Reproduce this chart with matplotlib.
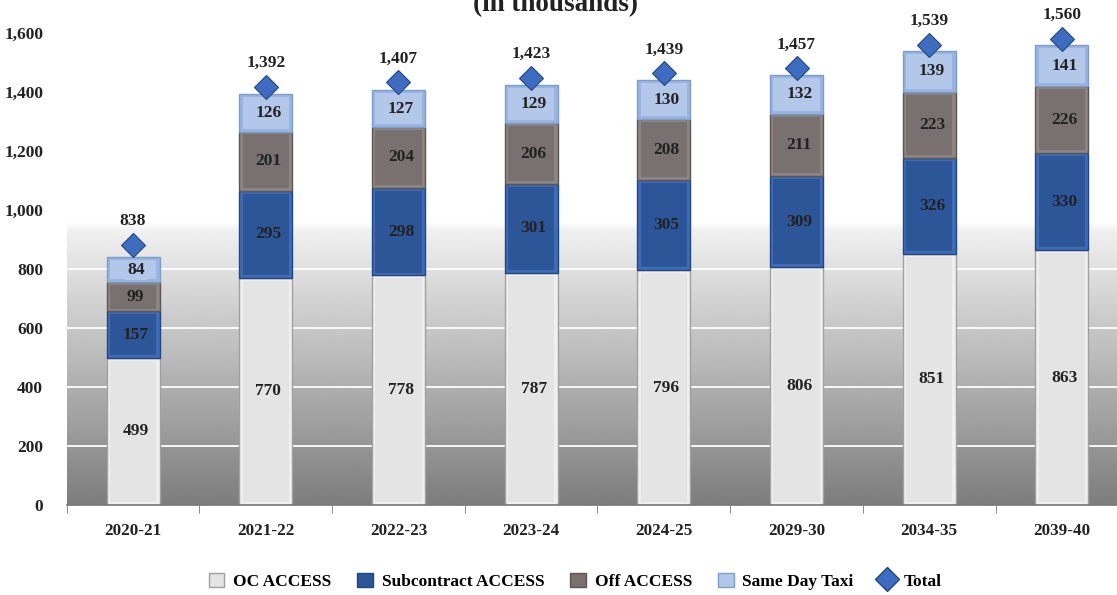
import matplotlib
matplotlib.use("Agg")
import matplotlib.pyplot as plt
from matplotlib.patches import Patch
from matplotlib.lines import Line2D
import numpy as np

# data (thousands of trips)
years = ["2020-21", "2021-22", "2022-23", "2023-24", "2024-25", "2029-30", "2034-35", "2039-40"]
oc_access = [499, 770, 778, 787, 796, 806, 851, 863]
sub_access = [157, 295, 298, 301, 305, 309, 326, 330]
off_access = [99, 201, 204, 206, 208, 211, 223, 226]
same_day_taxi = [84, 126, 127, 129, 130, 132, 139, 141]
total = [838, 1392, 1407, 1423, 1439, 1457, 1539, 1560]

series = [oc_access, sub_access, off_access, same_day_taxi]
names = ["OC ACCESS", "Subcontract ACCESS", "Off ACCESS", "Same Day Taxi"]
# face, bevel, outline
faces = ["#e4e4e4", "#2d5699", "#78716f", "#b3c7e8"]
bevels = ["#efefef", "#3f6cb8", "#8c8582", "#98b5e2"]
edges = ["#a0a0a0", "#22467f", "#5c5654", "#7e9ccc"]

FONT = ["Liberation Serif", "DejaVu Serif"]
plt.rcParams["font.family"] = FONT
plt.rcParams["font.weight"] = "bold"
TXT = "#222222"

fig = plt.figure(figsize=(11.17, 5.95), dpi=100)
ax = fig.add_axes([66.7 / 1117, 1 - 505 / 595, 1061.6 / 1117, (505 - 33) / 595])

x = np.arange(len(years))
ax.set_xlim(-0.5, len(years) - 0.5)
ax.set_ylim(0, 1600)

# background gradient (white at top, grey at bottom)
yy = np.linspace(0, 1600, 400)
shade = np.interp(yy, [0, 930, 960, 1600], [0.49, 0.94, 1.0, 1.0])
ax.imshow(np.repeat(shade[:, None], 2, axis=1), cmap="gray", vmin=0, vmax=1,
          origin="lower", extent=[-0.5, len(years) - 0.5, 0, 1600],
          aspect="auto", zorder=0, interpolation="bilinear")

for g in range(200, 1600, 200):
    ax.axhline(g, color="white", lw=1.3, zorder=1)

w = 0.40
dx = 0.025
dy = 10
bottom = np.zeros(len(years))
for vals, face, bev, ed in zip(series, faces, bevels, edges):
    vals = np.array(vals, dtype=float)
    ax.bar(x, vals, w, bottom=bottom, color=bev, edgecolor=ed, linewidth=1.0, zorder=2)
    ax.bar(x, vals - 2 * dy, w - 2 * dx, bottom=bottom + dy, color=face,
           edgecolor="none", zorder=3)
    bottom += vals

# segment labels
bottom = np.zeros(len(years))
for k, vals in enumerate(series):
    for i, v in enumerate(vals):
        kw = {}
        if k == 3:
            kw["bbox"] = dict(boxstyle="square,pad=0.12", fc=faces[3], ec="none")
        ax.text(x[i] + 0.02, bottom[i] + v / 2, f"{v:,}", ha="center", va="center",
                fontsize=12.5, fontweight="bold", color=TXT, zorder=5, **kw)
    bottom += np.array(vals)

# total on secondary axis
ax2 = ax.twinx()
ax2.set_ylim(-75, 1580)
ax2.axis("off")
ax2.plot(x, total, linestyle="none", marker="D", markersize=12.5,
         markerfacecolor="#3d6cc0", markeredgecolor="#24477f", markeredgewidth=0.8,
         clip_on=False, zorder=6)
for i, t in enumerate(total):
    ax2.annotate(f"{t:,}", (x[i], t), xytext=(0, 17), textcoords="offset points",
                 ha="center", va="center", fontsize=12.5, fontweight="bold",
                 color=TXT, annotation_clip=False)

# axes styling
ax.set_xticks(x)
ax.set_xticklabels(years, fontsize=12.3, fontweight="bold", color=TXT)
ax.set_xticks(np.arange(-0.5, len(years)), minor=True)
ax.tick_params(axis="x", which="major", length=0, pad=13)
ax.tick_params(axis="x", which="minor", length=6, color="#777777")
ax.set_yticks(range(0, 1601, 200))
ax.set_yticklabels([f"{v:,}" for v in range(0, 1601, 200)], fontsize=12.5,
                   fontweight="bold", color=TXT)
ax.tick_params(axis="y", length=0, pad=17)
for s in ["top", "right", "left"]:
    ax.spines[s].set_visible(False)
ax.spines["bottom"].set_color("#777777")
ax.spines["bottom"].set_linewidth(1.2)
ax.spines["bottom"].set_zorder(7)

fig.text(0.497, 1 - 5 / 595, "(in thousands)", ha="center", va="center", fontsize=19.5,
         fontweight="bold", color=TXT)

handles = [Patch(facecolor=f, edgecolor=e) for f, e in zip(faces, edges)]
handles.append(Line2D([], [], linestyle="none", marker="D", markersize=12,
                      markerfacecolor="#3d6cc0", markeredgecolor="#24477f"))
fig.legend(handles, names + ["Total"], loc="center", bbox_to_anchor=(0.515, 0.023),
           ncol=5, frameon=False, handlelength=0.9, handleheight=0.9,
           handletextpad=0.5, columnspacing=1.5,
           prop={"family": FONT, "weight": "bold", "size": 12.5})

fig.savefig("out.png", dpi=100)
